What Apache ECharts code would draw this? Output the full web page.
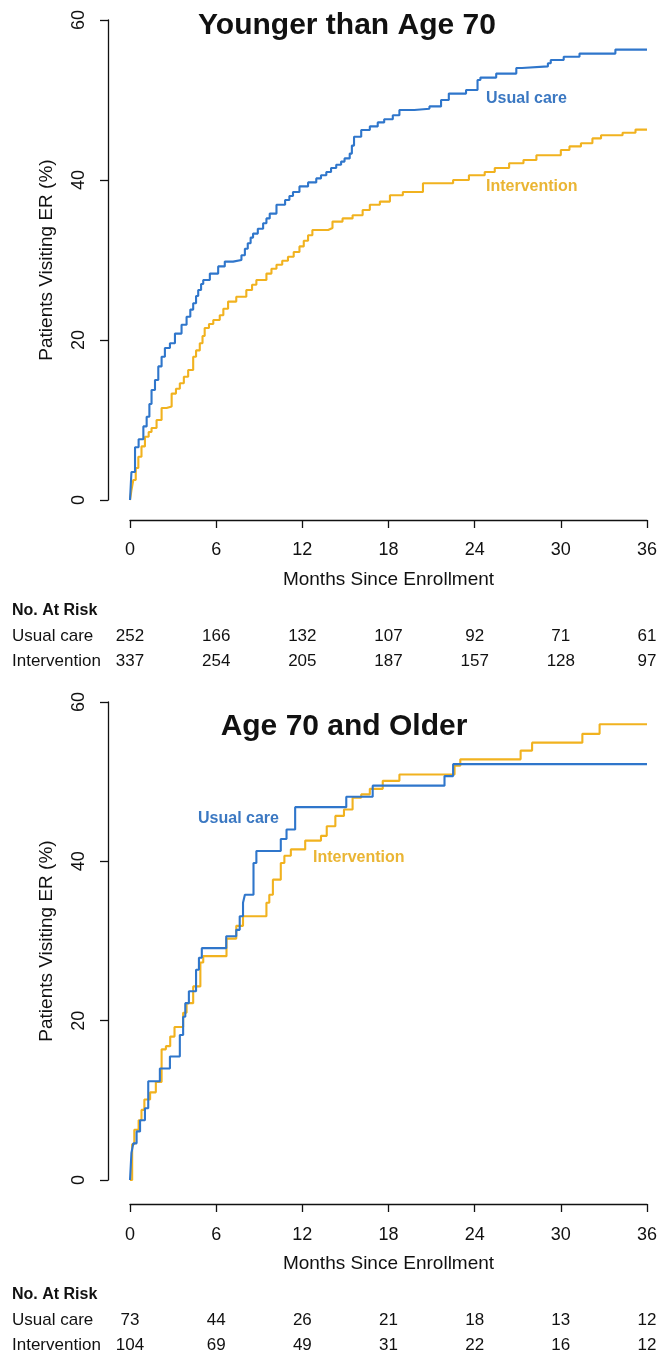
<!DOCTYPE html>
<html>
<head>
<meta charset="utf-8">
<script src="https://cdn.jsdelivr.net/npm/echarts@6/dist/echarts.min.js"></script>
<style>
html,body{margin:0;padding:0;background:#fff;}
#chart{width:660px;height:1357px;}
</style>
</head>
<body>
<div id="chart"></div>
<script>
// ---------- Data ----------
var monthTicks = [0, 6, 12, 18, 24, 30, 36];

// Younger than Age 70
var youngUsualMonths = [0,0.1,0.35,0.6,0.93,1.16,1.35,1.5,1.74,1.97,2.2,2.43,2.78,3.13,3.59,3.94,4.2,4.4,4.6,4.75,4.95,5.1,5.56,6.14,6.6,7.18,7.76,8.0,8.2,8.4,8.57,8.9,9.27,9.5,9.73,10.2,10.8,11.1,11.35,11.8,12.4,12.97,13.3,13.67,14.0,14.36,14.7,14.94,15.3,15.45,15.6,16.1,16.7,17.25,17.7,18.3,18.76,19.8,20.85,21.66,22.2,23.4,24.2,24.4,25.5,26.9,27.3,29.1,29.3,30.2,31.3,33.8,36];
var youngUsualPct    = [0,3.5,6.6,7.6,9.2,10.4,12.0,13.75,15.0,16.7,17.9,19.0,19.6,20.8,21.9,22.9,23.8,24.6,25.5,26.25,27.0,27.5,28.3,29.2,29.8,30.0,30.6,31.4,32.1,32.8,33.3,33.9,34.6,35.2,35.8,36.9,37.5,38.0,38.5,39.2,39.7,40.2,40.6,41.0,41.5,41.9,42.3,42.7,43.3,44.3,45.4,46.25,46.7,47.2,47.6,48.1,48.75,48.9,49.2,50.0,50.8,51.25,52.5,52.8,53.3,54.0,54.2,54.6,55.0,55.4,55.8,56.3,56.3];

var youngIntvMonths = [0,0.1,0.23,0.4,0.58,0.8,1.04,1.3,1.5,1.85,2.2,2.55,2.9,3.2,3.47,3.75,4.05,4.4,4.6,4.86,5.05,5.2,5.5,5.8,6.25,6.5,6.83,7.4,8.1,8.5,8.8,9.5,9.85,10.2,10.6,11.0,11.4,11.8,12.1,12.4,12.7,13.8,14.1,14.8,15.5,16.2,16.7,17.4,18.1,19.0,20.4,22.5,23.6,24.7,25.4,26.4,27.4,28.3,30.0,30.6,31.4,32.2,32.8,34.3,35.2,36];
var youngIntvPct    = [0,1.2,2.5,4.0,5.4,6.7,7.9,8.5,9.0,10.0,11.5,11.7,13.3,13.9,14.6,15.4,16.25,17.9,18.7,19.6,20.5,21.5,22.0,22.5,23.1,23.9,24.8,25.4,26.25,26.9,27.5,28.3,28.9,29.4,29.9,30.4,31.0,31.7,32.4,33.1,33.75,34.0,34.8,35.2,35.6,36.25,36.9,37.3,38.1,38.5,39.6,40.0,40.6,41.0,41.5,42.1,42.5,43.1,43.75,44.2,44.6,45.2,45.6,45.9,46.3,46.3];

// Age 70 and Older
var olderUsualMonths = [0,0.1,0.23,0.46,0.7,1.04,1.27,2.08,2.78,3.47,3.7,3.85,4.1,4.6,4.8,5.0,6.7,7.4,7.64,7.87,8.0,8.6,8.8,10.5,10.9,11.5,15.06,16.9,21.9,22.5,36];
var olderUsualPct    = [0,3.4,4.6,6.1,7.5,9.0,12.4,14.0,15.5,18.2,20.5,22.2,23.7,26.4,27.9,29.1,30.6,31.4,33.1,34.8,35.8,39.8,41.3,42.8,44.0,46.8,48.1,49.5,50.7,52.2,52.2];

var olderIntvMonths = [0,0.15,0.3,0.6,0.8,1.0,1.4,1.8,2.2,2.5,2.8,3.1,3.7,3.94,4.4,4.9,5.1,6.72,7.4,7.87,9.5,9.7,9.95,10.5,10.75,11.2,12.2,13.3,13.7,14.3,14.9,15.5,16.1,16.7,17.6,18.76,22.6,23.0,27.2,28.0,31.5,32.7,36];
var olderIntvPct    = [0,4.5,6.3,7.5,8.8,10.1,11.0,12.3,16.4,16.8,18.0,19.2,21.0,22.2,24.3,27.3,28.1,30.3,31.9,33.1,34.8,35.8,37.7,39.8,40.7,41.5,42.6,43.2,44.4,45.7,46.5,48.0,48.4,49.1,50.1,50.9,52.0,52.8,53.9,54.9,56.0,57.2,57.2];

// Numbers at risk
var youngRiskUsual = [252, 166, 132, 107, 92, 71, 61];
var youngRiskIntv  = [337, 254, 205, 187, 157, 128, 97];
var olderRiskUsual = [73, 44, 26, 21, 18, 13, 12];
var olderRiskIntv  = [104, 69, 49, 31, 22, 16, 12];

var panelTitles = ['Younger than Age 70', 'Age 70 and Older'];
var groupNames = ['Usual care', 'Intervention'];

// ---------- Styling ----------
var FONT = '"Liberation Sans", Arial, Helvetica, sans-serif';
var BLUE = '#2F76CB';
var ORANGE = '#F1B21F';
var BLUE_TXT = '#3B78C2';
var ORANGE_TXT = '#EAB534';

function zip(a, b) { return a.map(function (v, i) { return [v, b[i]]; }); }

function xAxisCfg(gi, offset, margin, gap) {
  return {
    type: 'value', gridIndex: gi, min: 0, max: 36, interval: 6, offset: offset,
    axisLine: { show: true, onZero: false, lineStyle: { color: '#111', width: 1.3 } },
    axisTick: { show: true, length: 8, lineStyle: { color: '#111', width: 1.3 } },
    axisLabel: { fontSize: 18, color: '#111', fontFamily: FONT, margin: margin },
    splitLine: { show: false },
    name: 'Months Since Enrollment', nameLocation: 'middle', nameGap: gap,
    nameTextStyle: { fontSize: 19, color: '#111', fontFamily: FONT }
  };
}
function yAxisCfg(gi) {
  return {
    type: 'value', gridIndex: gi, min: 0, max: 60, interval: 20, offset: 22,
    axisLine: { show: true, onZero: false, lineStyle: { color: '#111', width: 1.3 } },
    axisTick: { show: true, length: 8, lineStyle: { color: '#111', width: 1.3 } },
    axisLabel: { fontSize: 18, color: '#111', fontFamily: FONT, rotate: 90, margin: 20 },
    splitLine: { show: false },
    name: 'Patients Visiting ER (%)', nameLocation: 'middle', nameGap: 52, nameRotate: 90,
    nameTextStyle: { fontSize: 19, color: '#111', fontFamily: FONT }
  };
}
function lineSeries(name, xi, data, color) {
  return {
    type: 'line', name: name, xAxisIndex: xi, yAxisIndex: xi, data: data,
    step: 'end', showSymbol: false, symbol: 'none', animation: false,
    lineStyle: { color: color, width: 2.1 }, itemStyle: { color: color }
  };
}

var chart = echarts.init(document.getElementById('chart'), null, { renderer: 'canvas' });

var option = {
  backgroundColor: '#fff',
  animation: false,
  grid: [
    { left: 130, width: 518, top: 20, height: 480 },
    { left: 130, width: 518, top: 702, height: 478 }
  ],
  xAxis: [xAxisCfg(0, 20, 21, 50), xAxisCfg(1, 24, 22, 50)],
  yAxis: [yAxisCfg(0), yAxisCfg(1)],
  series: [
    lineSeries(groupNames[1], 0, zip(youngIntvMonths, youngIntvPct), ORANGE),
    lineSeries(groupNames[0], 0, zip(youngUsualMonths, youngUsualPct), BLUE),
    lineSeries(groupNames[1], 1, zip(olderIntvMonths, olderIntvPct), ORANGE),
    lineSeries(groupNames[0], 1, zip(olderUsualMonths, olderUsualPct), BLUE)
  ]
};
chart.setOption(option);

// ---------- Text overlays (titles, in-plot labels, at-risk tables) ----------
var g = [];
function txt(x, y, s, opts) {
  opts = opts || {};
  g.push({
    type: 'text', x: x, y: y, silent: true,
    style: {
      text: s, fontFamily: FONT, fontSize: opts.size || 17,
      fontWeight: opts.bold ? 'bold' : 'normal', fill: opts.color || '#111',
      textAlign: opts.align || 'left', textVerticalAlign: 'middle'
    }
  });
}

txt(347, 26, panelTitles[0], { size: 30, bold: true, align: 'center' });
txt(344, 727, panelTitles[1], { size: 30, bold: true, align: 'center' });

txt(486, 99, groupNames[0], { size: 16, bold: true, color: BLUE_TXT });
txt(486, 187, groupNames[1], { size: 16, bold: true, color: ORANGE_TXT });
txt(198, 819, groupNames[0], { size: 16, bold: true, color: BLUE_TXT });
txt(313, 858, groupNames[1], { size: 16, bold: true, color: ORANGE_TXT });

function riskTable(xi, yHead, rowA, rowB) {
  txt(12, yHead, 'No. At Risk', { size: 16, bold: true });
  txt(12, yHead + 25, groupNames[0], { size: 17 });
  txt(12, yHead + 50, groupNames[1], { size: 17 });
  monthTicks.forEach(function (m, i) {
    var px = chart.convertToPixel({ xAxisIndex: xi }, m);
    txt(px, yHead + 25, String(rowA[i]), { size: 17, align: 'center' });
    txt(px, yHead + 50, String(rowB[i]), { size: 17, align: 'center' });
  });
}
riskTable(0, 611, youngRiskUsual, youngRiskIntv);
riskTable(1, 1295, olderRiskUsual, olderRiskIntv);

chart.setOption({ graphic: g });
</script>
</body>
</html>
